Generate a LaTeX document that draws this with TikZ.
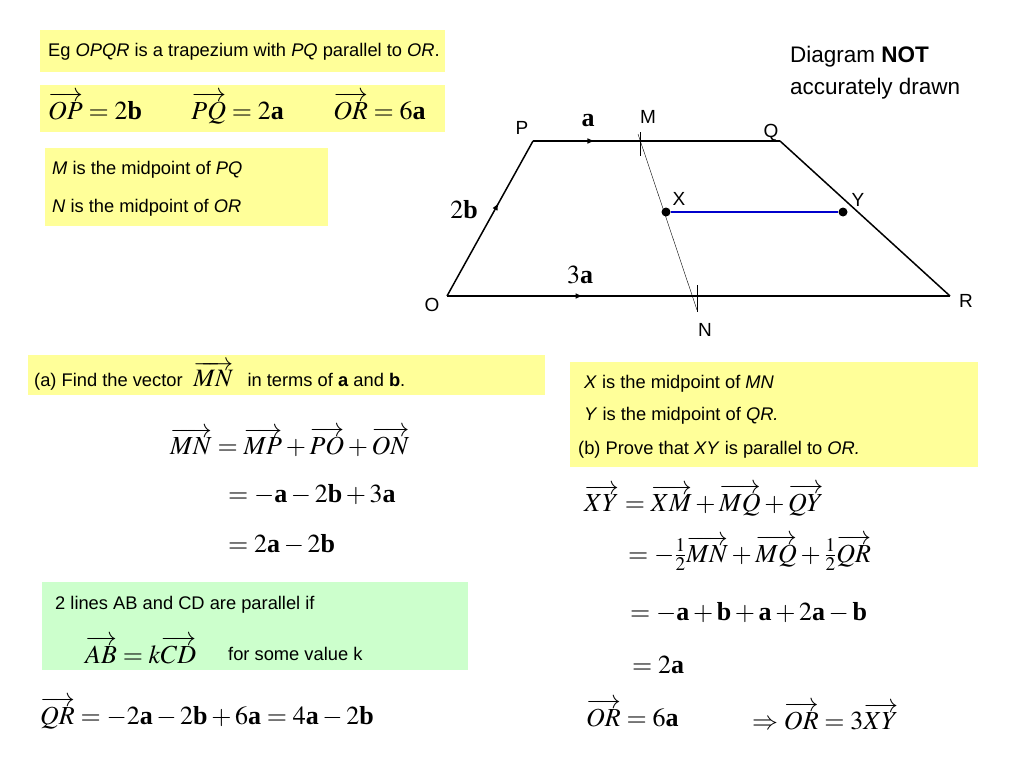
\documentclass[tikz,border=0pt]{standalone}
\usepackage{amsmath}
\usepackage{mathptmx}
\usepackage{fontspec}
\setmainfont{Liberation Sans}
\newfontfamily\serif{Liberation Serif}
\usetikzlibrary{decorations.markings}
\definecolor{yel}{HTML}{FFFF99}
\definecolor{grn}{HTML}{CCFFCC}
\definecolor{blu}{HTML}{0000CC}
\newcommand{\vv}[1]{\overrightarrow{#1}}
\newcommand{\bv}[1]{\text{\serif\bfseries #1}}
\begin{document}
\begin{tikzpicture}[x=1pt,y=-1pt,
  txt/.style={font=\fontsize{18.3}{26}\selectfont,anchor=west,inner sep=0pt},
  mth/.style={font=\fontsize{26}{30}\selectfont,anchor=west,inner sep=0pt},
  lbl/.style={font=\fontsize{19}{24}\selectfont,inner sep=0pt},
  dot/.style={circle,fill,inner sep=0pt,minimum size=9pt},
  mid/.style={postaction={decorate},decoration={markings,mark=at position #1 with {\arrow{latex}}}}]
\useasboundingbox (0,0) rectangle (1024,768);
% boxes
\fill[yel] (40,30) rectangle (445,72);
\fill[yel] (40,85) rectangle (445,132);
\fill[yel] (45,148) rectangle (328,226);
\fill[yel] (28,355) rectangle (545,395);
\fill[yel] (570,362) rectangle (978,467);
\fill[grn] (42,582) rectangle (468,670);
% texts
\node[txt] (t1) at (48,52) {Eg \textit{OPQR} is a trapezium with \textit{PQ} parallel to \textit{OR}.};
\node[mth] (t2) at (48,108) {$\vv{OP}=2\bv b\hspace{1.9em}\vv{PQ}=2\bv a\hspace{1.9em}\vv{OR}=6\bv a$};
\node[txt] (t3) at (52,170) {\textit{M} is the midpoint of \textit{PQ}};
\node[txt] (t4) at (52,208) {\textit{N} is the midpoint of \textit{OR}};
\node[txt,anchor=north west,font=\fontsize{22.5}{32}\selectfont] (t5) at (790,40) {\begin{tabular}{@{}l@{}}Diagram \textbf{NOT}\\accurately drawn\end{tabular}};
\node[txt] (ta) at (34,376) {(a) Find the vector \hspace{0.3em}{\fontsize{25}{28}\selectfont$\vv{MN}$}\hspace{0.5em} in terms of \textbf{a} and \textbf{b}.};
\node[mth] (a1) at (170,442) {$\vv{MN}=\vv{MP}+\vv{PO}+\vv{ON}$};
\node[mth] (a2) at (228,495) {$=-\bv a-2\bv b+3\bv a$};
\node[mth] (a3) at (228,545) {$=2\bv a-2\bv b$};
\node[txt] (g1) at (55,605) {2 lines AB and CD are parallel if};
\node[mth] (g2) at (85,650) {$\vv{AB}=k\vv{CD}$};
\node[txt] (g3) at (228,654) {for some value k};
\node[mth] (q1) at (40,713) {$\vv{QR}=-2\bv a-2\bv b+6\bv a=4\bv a-2\bv b$};
\node[txt] (b1) at (584,384) {\textit{X} is the midpoint of \textit{MN}};
\node[txt] (b2) at (584,416) {\textit{Y} is the midpoint of \textit{QR.}};
\node[txt] (b3) at (578,450) {(b) Prove that \textit{XY} is parallel to \textit{OR.}};
\node[mth] (b4) at (584,500) {$\vv{XY}=\vv{XM}+\vv{MQ}+\vv{QY}$};
\node[mth] (b5) at (628,553) {$=-\tfrac12\vv{MN}+\vv{MQ}+\tfrac12\vv{QR}$};
\node[mth] (b6) at (630,613) {$=-\bv a+\bv b+\bv a+2\bv a-\bv b$};
\node[mth] (b7) at (632,665) {$=2\bv a$};
\node[mth] (b8) at (586,713) {$\vv{OR}=6\bv a$};
\node[mth] (b9) at (752,716) {$\Rightarrow\vv{OR}=3\vv{XY}$};
% trapezium
\coordinate (O) at (447,296);
\coordinate (P) at (533,141);
\coordinate (Q) at (780,141);
\coordinate (R) at (950,296);
\coordinate (M) at (638,134);
\coordinate (N) at (697,310);
\draw[line width=1.5pt,mid=0.6] (O) -- (P);
\draw[line width=1.5pt,mid=0.25] (P) -- (Q);
\draw[line width=1.5pt] (Q) -- (R);
\draw[line width=1.5pt,mid=0.27] (O) -- (R);
\draw[thin] (M) -- (N);
\draw (640,132) -- (640,156);
\draw (697,285) -- (697,312);
\node[dot] (X) at (666,212) {};
\node[dot] (Y) at (843,212) {};
\draw[blu,line width=2.5pt] (X) -- (Y);
\node[lbl] (lP) at (522,128) {P};
\node[lbl] (lQ) at (771,133) {Q};
\node[lbl] (lM) at (648,117) {M};
\node[lbl] (lX) at (679,199) {X};
\node[lbl] (lY) at (858,200) {Y};
\node[lbl] (lO) at (432,305) {O};
\node[lbl] (lR) at (966,301) {R};
\node[lbl] (lN) at (705,330) {N};
\node[mth,anchor=center] (la) at (588,121) {$\bv a$};
\node[mth,anchor=center] (lb) at (464,210) {$2\bv b$};
\node[mth,anchor=center] (l3) at (580,275) {$3\bv a$};
\end{tikzpicture}
\end{document}
